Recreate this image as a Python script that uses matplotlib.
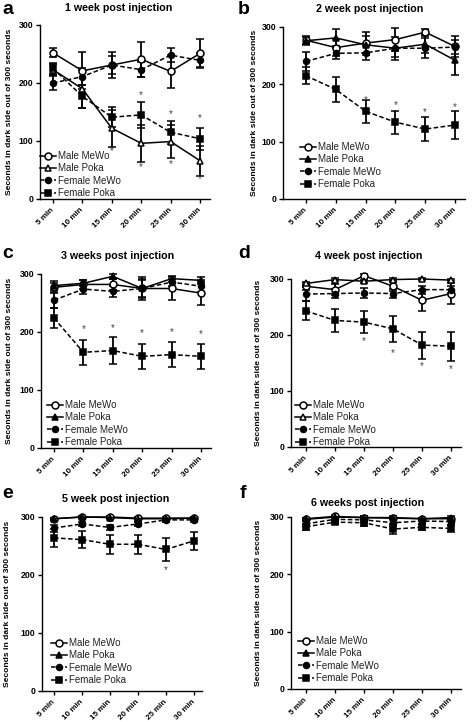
import matplotlib
matplotlib.use("Agg")
import matplotlib.pyplot as plt
from matplotlib.lines import Line2D

plt.rcParams['font.family'] = ['Liberation Sans', 'DejaVu Sans']

W, H = 472, 722

times = ["5 min", "10 min", "15 min", "20 min", "25 min", "30 min"]
yticks = [0, 100, 200, 300]
series_names = ["Male MeWo", "Male Poka", "Female MeWo", "Female Poka"]
titles = ["1 week post injection", "2 week post injection", "3 weeks post injection",
          "4 week post injection", "5 week post injection", "6 weeks post injection"]
letters = ["a", "b", "c", "d", "e", "f"]
ylabel = "Seconds in dark side out of 300 seconds"

# Panel a
a_male_mewo = [252, 221, 231, 241, 220, 251]
a_male_mewo_err = [8, 32, 22, 30, 28, 24]
a_male_poka = [223, 190, 122, 96, 99, 66]
a_male_poka_err = [10, 33, 32, 32, 28, 26]
a_female_mewo = [200, 211, 231, 223, 248, 239]
a_female_mewo_err = [12, 15, 15, 13, 12, 13]
a_female_poka = [225, 177, 141, 145, 115, 104]
a_female_poka_err = [10, 20, 17, 22, 20, 19]
a_star_x = [2, 3, 3, 4, 4, 5, 5]
a_star_y = [82, 180, 55, 146, 60, 140, 35]

# Panel b
b_male_mewo = [277, 264, 272, 278, 291, 266]
b_male_mewo_err = [8, 15, 20, 20, 5, 19]
b_male_poka = [276, 281, 269, 263, 270, 242]
b_male_poka_err = [6, 15, 15, 20, 15, 26]
b_female_mewo = [240, 254, 255, 263, 263, 265]
b_female_mewo_err = [17, 10, 12, 15, 17, 12]
b_female_poka = [215, 191, 153, 134, 122, 129]
b_female_poka_err = [15, 22, 20, 20, 21, 25]
b_star_x = [2, 3, 4, 5]
b_star_y = [172, 164, 152, 161]

# Panel c
c_male_mewo = [277, 282, 282, 275, 275, 267]
c_male_mewo_err = [8, 8, 10, 15, 20, 20]
c_male_poka = [280, 284, 296, 275, 292, 289]
c_male_poka_err = [8, 5, 4, 20, 5, 6]
c_female_mewo = [255, 274, 270, 275, 286, 279]
c_female_mewo_err = [13, 8, 10, 17, 6, 10]
c_female_poka = [224, 165, 168, 158, 161, 158]
c_female_poka_err = [17, 22, 24, 21, 22, 22]
c_star_x = [1, 2, 3, 4, 5]
c_star_y = [205, 206, 199, 200, 197]

# Panel d
d_male_mewo = [287, 281, 306, 287, 262, 274]
d_male_mewo_err = [6, 10, 3, 8, 19, 18]
d_male_poka = [292, 299, 296, 299, 300, 298]
d_male_poka_err = [3, 2, 3, 2, 2, 2]
d_female_mewo = [273, 274, 275, 274, 281, 281]
d_female_mewo_err = [12, 8, 9, 8, 7, 6]
d_female_poka = [243, 226, 223, 211, 182, 180]
d_female_poka_err = [17, 21, 19, 23, 24, 26]
d_star_x = [2, 3, 4, 5]
d_star_y = [190, 167, 145, 139]

# Panel e
e_male_mewo = [297, 300, 300, 298, 298, 298]
e_male_mewo_err = [2, 2, 2, 2, 2, 2]
e_male_poka = [297, 300, 299, 297, 297, 298]
e_male_poka_err = [2, 2, 2, 2, 2, 2]
e_female_mewo = [281, 288, 282, 288, 295, 295]
e_female_mewo_err = [6, 3, 5, 4, 3, 3]
e_female_poka = [264, 261, 253, 253, 244, 259]
e_female_poka_err = [15, 15, 16, 16, 19, 16]
e_star_x = [4]
e_star_y = [209]

# Panel f
f_male_mewo = [297, 301, 299, 298, 297, 297]
f_male_mewo_err = [2, 2, 2, 2, 2, 2]
f_male_poka = [296, 300, 299, 299, 297, 299]
f_male_poka_err = [2, 2, 2, 2, 2, 2]
f_female_mewo = [288, 296, 295, 290, 293, 292]
f_female_mewo_err = [5, 4, 5, 6, 5, 6]
f_female_poka = [283, 291, 290, 279, 282, 280]
f_female_poka_err = [5, 4, 5, 8, 5, 6]
f_star_x = []
f_star_y = []

panels = [
    (a_male_mewo, a_male_mewo_err, a_male_poka, a_male_poka_err, a_female_mewo, a_female_mewo_err, a_female_poka, a_female_poka_err, a_star_x, a_star_y),
    (b_male_mewo, b_male_mewo_err, b_male_poka, b_male_poka_err, b_female_mewo, b_female_mewo_err, b_female_poka, b_female_poka_err, b_star_x, b_star_y),
    (c_male_mewo, c_male_mewo_err, c_male_poka, c_male_poka_err, c_female_mewo, c_female_mewo_err, c_female_poka, c_female_poka_err, c_star_x, c_star_y),
    (d_male_mewo, d_male_mewo_err, d_male_poka, d_male_poka_err, d_female_mewo, d_female_mewo_err, d_female_poka, d_female_poka_err, d_star_x, d_star_y),
    (e_male_mewo, e_male_mewo_err, e_male_poka, e_male_poka_err, e_female_mewo, e_female_mewo_err, e_female_poka, e_female_poka_err, e_star_x, e_star_y),
    (f_male_mewo, f_male_mewo_err, f_male_poka, f_male_poka_err, f_female_mewo, f_female_mewo_err, f_female_poka, f_female_poka_err, f_star_x, f_star_y),
]

# layout in pixels: left, right, top(300), bottom(0), x of first tick, x of last tick
boxes = [
    (40, 210, 25, 199, 53, 200),
    (283, 465, 27, 199, 306, 455),
    (41, 211, 274, 448, 54, 201),
    (291, 461, 279, 447, 306, 451),
    (42, 202, 517, 691, 54, 194),
    (291, 461, 517, 689, 306, 451),
]
title_pos = [(119, 8), (370, 9), (118, 256), (369, 256), (116, 499), (368, 503)]
letter_pos = [(2, 9), (238, 9), (2, 254), (238, 253), (2, 494), (240, 494)]
ylabel_x = [10, 254, 10, 259, 8, 259]
legend_pos = [(40, 151), (300, 142), (47, 400), (295, 400), (51, 638), (298, 636)]
open_tri = [True, False, False, True, False, False]

fig = plt.figure(figsize=(W / 100, H / 100), dpi=100)
fig.patch.set_facecolor('white')

lw = 1.1
for i, (box, data) in enumerate(zip(boxes, panels)):
    left, right, top, bottom, p5, p30 = box
    ax = fig.add_axes([left / W, 1 - bottom / H, (right - left) / W, (bottom - top) / H])
    sp = (p30 - p5) / 5.0
    ax.set_xlim((left - p5) / sp, (right - p5) / sp)
    ax.set_ylim(0, 300)
    x = list(range(len(times)))
    mm, mme, mp, mpe, fm, fme, fp, fpe, sx, sy = data
    styles = [
        dict(marker='o', mfc='white', ls='-', ms=5),
        dict(marker='^', mfc='white' if open_tri[i] else 'black', ls='-', ms=5),
        dict(marker='o', mfc='black', ls=(0, (3, 1.6)), ms=4.3),
        dict(marker='s', mfc='black', ls=(0, (3, 1.6)), ms=4.3),
    ]
    handles = []
    for (vals, errs), st, name in zip([(mm, mme), (mp, mpe), (fm, fme), (fp, fpe)], styles, series_names):
        ax.errorbar(x, vals, yerr=errs, color='black', lw=lw, ls=st['ls'], marker=st['marker'],
                    ms=st['ms'], mfc=st['mfc'], mec='black', mew=1.1, capsize=2.8,
                    elinewidth=1.3, capthick=1.3, clip_on=False, zorder=3)
        handles.append(Line2D([0], [0], color='black', lw=lw, ls=st['ls'], marker=st['marker'],
                              ms=st['ms'], mfc=st['mfc'], mec='black', mew=1.1))
    for xs, ys in zip(sx, sy):
        ax.text(xs, ys, '*', ha='center', va='center', fontsize=7, color='#444444')
    for s in ['top', 'right']:
        ax.spines[s].set_visible(False)
    for s in ['left', 'bottom']:
        ax.spines[s].set_linewidth(1.0)
    ax.set_xticks(x)
    ax.set_xticklabels(times, rotation=45, ha='right', va='center', rotation_mode='anchor',
                       fontsize=5.8, fontweight='bold')
    ax.tick_params(axis='x', direction='out', length=3, width=1.0, pad=4)
    ax.set_yticks(yticks)
    ax.set_yticklabels([str(v) for v in yticks], fontsize=6.3, fontweight='bold')
    ax.tick_params(axis='y', direction='out', length=3, width=1.0, pad=2)

    lx, ly = legend_pos[i]
    ax.legend(handles, series_names, loc='upper left', bbox_to_anchor=(lx / W, 1 - ly / H),
              bbox_transform=fig.transFigure, frameon=False, fontsize=7.0, handlelength=1.6,
              handletextpad=0.3, labelspacing=0.25, borderpad=0, borderaxespad=0, numpoints=1,
              labelcolor='#222222')

    tx, ty = title_pos[i]
    fig.text(tx / W, 1 - ty / H, titles[i], ha='center', va='center', fontsize=7.7, fontweight='bold')
    lx2, ly2 = letter_pos[i]
    fig.text(lx2 / W, 1 - ly2 / H, letters[i], ha='left', va='center', fontsize=14, fontweight='bold')
    fig.text(ylabel_x[i] / W, 1 - ((top + bottom) / 2) / H, ylabel, rotation=90, ha='center',
             va='center', fontsize=6.1, fontweight='bold')

fig.savefig('out.png', dpi=100, facecolor='white')
